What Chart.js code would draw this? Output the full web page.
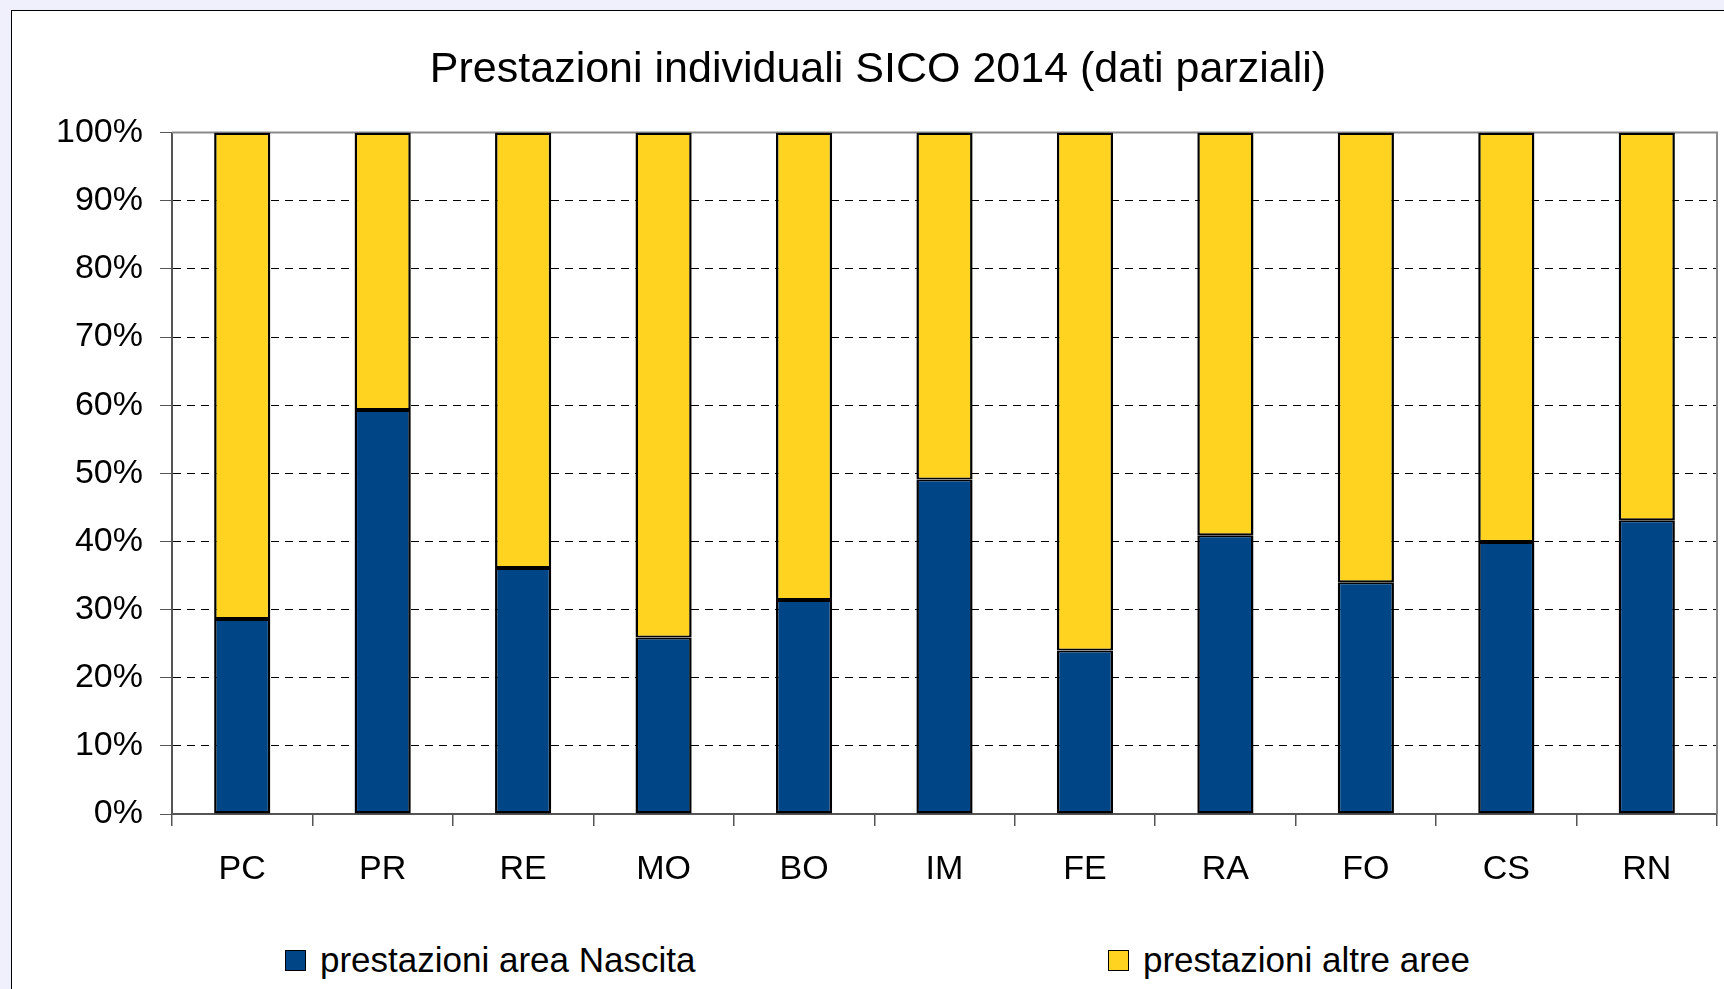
<!DOCTYPE html>
<html>
<head>
<meta charset="utf-8">
<script src="https://cdn.jsdelivr.net/npm/chart.js@4/dist/chart.umd.min.js"></script>
<style>
  html, body { margin: 0; padding: 0; }
  body {
    width: 1724px; height: 989px; overflow: hidden;
    background: #eff0fb; position: relative;
    font-family: "Liberation Sans", Arial, sans-serif;
  }
  #frame {
    position: absolute; left: 11px; top: 10px;
    width: 1780px; height: 1000px;
    background: #fff;
    border-left: 1px solid #000; border-top: 1px solid #000;
  }
  #wrap { position: absolute; left: 0; top: 0; width: 1732px; height: 900px; }
  .lg-box {
    position: absolute; width: 19px; height: 19px;
    border: 1.5px solid #000;
  }
  .lg-text {
    position: absolute; font-size: 35px; line-height: 35px;
    color: #000; white-space: nowrap;
  }
</style>
</head>
<body>
<div id="frame">
  <div id="wrap"><canvas id="c"></canvas></div>
</div>
<div id="legend"></div>
<script>
// categories (province)
const categories = ['PC', 'PR', 'RE', 'MO', 'BO', 'IM', 'FE', 'RA', 'FO', 'CS', 'RN'];

// series, in percent
const nascita = [28.6, 59.3, 36.1, 25.9, 31.4, 49.1, 24.0, 40.9, 34.0, 39.9, 43.1];
const altre   = [71.4, 40.7, 63.9, 74.1, 68.6, 50.9, 76.0, 59.1, 66.0, 60.1, 56.9];

const seriesLabels = ['prestazioni area Nascita', 'prestazioni altre aree'];
const seriesColors = ['#004586', '#ffd320'];

// y axis ticks
const yTicks = [0, 10, 20, 30, 40, 50, 60, 70, 80, 90, 100];

const FONT = '"Liberation Sans", Arial, sans-serif';

// grey frame around the plot area (top / right sides)
const plotFrame = {
  id: 'plotFrame',
  beforeDatasetsDraw(chart) {
    const { ctx, chartArea: a } = chart;
    ctx.save();
    ctx.strokeStyle = '#8a8a8a';
    ctx.lineWidth = 2;
    ctx.beginPath();
    ctx.moveTo(a.left, a.top);
    ctx.lineTo(a.right, a.top);
    ctx.lineTo(a.right, a.bottom);
    ctx.stroke();
    ctx.restore();
  },
};

const chart = new Chart(document.getElementById('c'), {
  type: 'bar',
  data: {
    labels: categories,
    datasets: [
      {
        label: seriesLabels[0], data: nascita, backgroundColor: seriesColors[0],
        borderWidth: { top: 2, left: 2.5, right: 2.5, bottom: 2.5 },
      },
      {
        label: seriesLabels[1], data: altre, backgroundColor: seriesColors[1],
        borderWidth: { top: 2.5, left: 2.5, right: 2.5, bottom: 2 },
      },
    ],
  },
  plugins: [plotFrame],
  options: {
    responsive: true,
    maintainAspectRatio: false,
    animation: false,
    // left padding keeps the title centred like the original
    layout: { padding: { left: 27, right: 27, top: 0, bottom: 0 } },
    datasets: {
      bar: {
        categoryPercentage: 1,
        barPercentage: 0.4,
        borderColor: '#000',
        borderSkipped: false,
      },
    },
    plugins: {
      legend: { display: false },
      tooltip: { enabled: false },
      title: {
        display: true,
        text: 'Prestazioni individuali SICO 2014 (dati parziali)',
        color: '#000',
        font: { family: FONT, size: 43, weight: 'normal' },
        padding: { top: 33, bottom: 37 },
      },
    },
    scales: {
      x: {
        stacked: true,
        afterFit: (s) => { s.height = 97; },
        grid: {
          offset: true,
          drawOnChartArea: false,
          drawTicks: true,
          tickLength: 12,
          color: '#555',
          lineWidth: 1.5,
        },
        border: { color: '#555', width: 2 },
        ticks: {
          color: '#000',
          padding: 23,
          maxRotation: 0,
          font: { family: FONT, size: 34 },
        },
      },
      y: {
        stacked: true,
        min: 0,
        max: 100,
        afterFit: (s) => { s.width = 133; },
        afterBuildTicks: (s) => { s.ticks = yTicks.map(v => ({ value: v })); },
        grid: {
          color: '#000',
          lineWidth: 1,
          drawTicks: true,
          tickLength: 12,
          tickColor: '#555',
          tickBorderDash: [],
        },
        // dash here applies to the grid lines in Chart.js v4
        border: { color: '#555', width: 2, dash: [8, 6] },
        ticks: {
          color: '#000',
          padding: 17,
          font: { family: FONT, size: 34 },
          callback: (v) => `${v}%`,
        },
      },
    },
  },
});

// legend as real text, built from the datasets
const legendX = [285, 1108];
const legendEl = document.getElementById('legend');
chart.data.datasets.forEach((ds, i) => {
  const box = document.createElement('div');
  box.className = 'lg-box';
  box.style.left = legendX[i] + 'px';
  box.style.top = '950px';
  box.style.background = ds.backgroundColor;
  legendEl.appendChild(box);

  const txt = document.createElement('div');
  txt.className = 'lg-text';
  txt.style.left = (legendX[i] + 35) + 'px';
  txt.style.top = '942px';
  txt.textContent = ds.label;
  legendEl.appendChild(txt);
});
</script>
</body>
</html>
